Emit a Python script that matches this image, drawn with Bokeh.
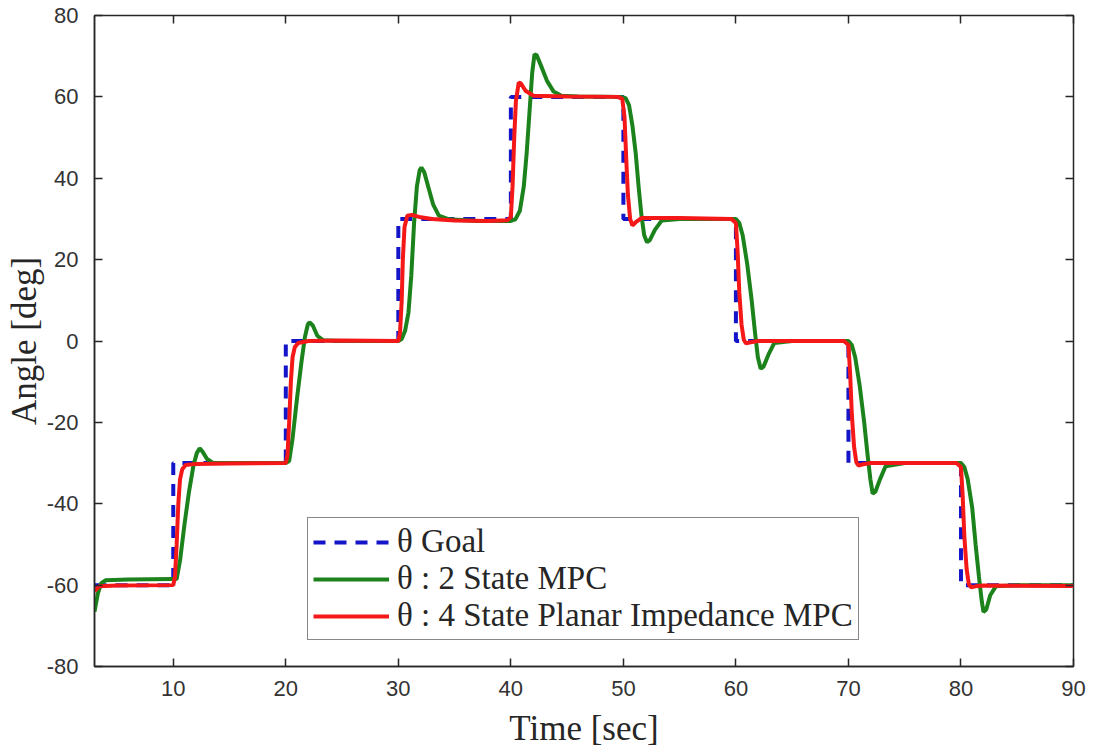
from bokeh.plotting import figure
from bokeh.models import Range1d, LinearAxis, FixedTicker, CustomJSTickFormatter
from bokeh.embed import file_html
from bokeh.resources import INLINE

# ---- data ----
goal_x = [3, 10, 10, 20, 20, 30, 30, 40, 40, 50, 50, 60, 60, 70, 70, 80, 80, 90]
goal_y = [-60, -60, -30, -30, 0, 0, 30, 30, 60, 60, 30, 30, 0, 0, -30, -30, -60, -60]

mpc2_x = [3.0, 3.3, 3.6, 4, 6, 10, 10.3, 10.6, 11.0, 11.4, 11.8, 12.1, 12.35, 12.6, 13, 13.5, 15,
          20, 20.3, 20.6, 21.0, 21.4, 21.7, 21.95, 22.1, 22.4, 22.8, 23.3, 25,
          30, 30.3, 30.6, 30.9, 31.15, 31.4, 31.65, 31.9, 32.05, 32.3, 32.7, 33.1, 33.6, 34.5, 37,
          40, 40.4, 40.8, 41.15, 41.4, 41.65, 41.9, 42.1, 42.3, 42.7, 43.2, 43.8, 44.5, 46,
          49.8, 50.2, 50.5, 50.8, 51.1, 51.35, 51.6, 51.85, 52.1, 52.35, 52.8, 53.4, 55,
          60, 60.3, 60.6, 61.0, 61.4, 61.7, 61.95, 62.2, 62.45, 62.9, 63.4, 65,
          70, 70.3, 70.6, 71.0, 71.4, 71.7, 71.95, 72.15, 72.4, 72.8, 73.3, 75,
          80, 80.3, 80.6, 81.0, 81.3, 81.6, 81.85, 82.0, 82.25, 82.6, 83.1, 85, 90]
mpc2_y = [-66.5, -62, -59.5, -58.8, -58.6, -58.5, -58.5, -54, -45, -37, -30.5, -27.5, -26.4, -27.2, -29, -29.9, -30,
          -30, -29.5, -24, -14, -5, 1, 4, 4.6, 3.8, 1.3, 0.2, 0,
          0, 0.5, 2.5, 7, 16, 29, 38, 42, 42.6, 41.5, 37.5, 33.5, 30.8, 29.9, 29.5,
          29.5, 29.9, 32, 38, 46, 56, 66, 70.5, 70.2, 67.5, 64, 61.3, 60.3, 60.1,
          60, 59.7, 58, 53, 46, 38, 31, 26, 24.3, 24.8, 27.3, 29.6, 30,
          30, 29, 26, 19, 10, 2, -4, -6.8, -6.3, -3.3, -0.5, 0,
          0, -1, -4, -11, -20, -28, -34, -37.5, -37, -34, -30.8, -30,
          -30, -31, -34, -41, -50, -58, -64, -66.6, -66, -62.5, -60.3, -60, -60]

mpc4_x = [3.0, 3.4, 5, 10.0, 10.15, 10.3, 10.45, 10.6, 10.8, 11.1, 12, 15,
          20, 20.15, 20.3, 20.45, 20.6, 20.8, 21.1, 22, 25,
          30, 30.15, 30.3, 30.4, 30.55, 30.8, 31.2, 32, 33, 35, 38, 39.7,
          40.0, 40.15, 40.3, 40.45, 40.7, 40.9, 41.3, 42, 45, 49.5,
          49.9, 50.1, 50.25, 50.4, 50.6, 50.8, 51.1, 51.6, 55, 59.6,
          60, 60.15, 60.3, 60.5, 60.7, 60.9, 61.3, 62, 69.6,
          70, 70.15, 70.3, 70.5, 70.7, 70.9, 71.3, 72, 79.6,
          80, 80.15, 80.3, 80.5, 80.7, 80.9, 81.3, 82, 90]
mpc4_y = [-61.5, -60.3, -60.1, -60.0, -58, -50, -40, -34, -31.5, -30.5, -30.2, -30.1,
          -30, -28, -20, -10, -4, -1.5, -0.5, 0, 0.1,
          0, 2, 10, 20, 28, 30.8, 31, 30.4, 30.0, 29.6, 29.5, 29.7,
          30.5, 38, 50, 59, 63.5, 63.3, 61.5, 60.3, 60.1, 60,
          59.5, 55, 45, 36, 30, 28.4, 29.2, 30.2, 30.2, 30,
          29, 22, 12, 4, 0.3, -0.6, -0.3, 0, 0,
          -1, -8, -18, -26, -29.8, -30.6, -30.3, -30, -30,
          -31, -38, -48, -56, -59.8, -60.5, -60.3, -60.1, -60.2]

x_ticks = [10, 20, 30, 40, 50, 60, 70, 80, 90]
y_ticks = [-80, -60, -40, -20, 0, 20, 40, 60, 80]
y_tick_labels = ["-80", "-60", "-40", "-20", "0", "20", "40", "60", "80"]

labels = ["\u03b8 Goal", "\u03b8 : 2 State MPC", "\u03b8 : 4 State Planar Impedance MPC"]

# ---- figure ----
p = figure(width=1094, height=751, output_backend="svg", toolbar_location=None,
           x_range=Range1d(3, 90), y_range=Range1d(-80, 80),
           min_border_left=94, min_border_right=21, min_border_top=15, min_border_bottom=85)
p.background_fill_color = "white"
p.border_fill_color = "white"
p.outline_line_color = "#262626"
p.outline_line_width = 1.5
p.xgrid.visible = False
p.ygrid.visible = False

tick_color = "#262626"
font_sans = "Liberation Sans"
font_serif = "Liberation Serif"

for ax, ticks in ((p.xaxis[0], x_ticks), (p.yaxis[0], y_ticks)):
    ax.ticker = FixedTicker(ticks=ticks)
    ax.major_tick_in = 8
    ax.major_tick_out = 0
    ax.minor_tick_line_color = None
    ax.major_tick_line_color = tick_color
    ax.major_tick_line_width = 1.5
    ax.axis_line_color = tick_color
    ax.axis_line_width = 1.5
    ax.major_label_text_font = font_sans
    ax.major_label_text_font_size = "22px"
    ax.major_label_text_color = "#333333"
    ax.axis_label_text_font = font_serif
    ax.axis_label_text_font_size = "35px"
    ax.axis_label_text_font_style = "normal"
    ax.axis_label_text_color = "#262626"

p.yaxis[0].major_label_overrides = {t: s for t, s in zip(y_ticks, y_tick_labels)}
p.xaxis[0].axis_label = "Time [sec]"
p.yaxis[0].axis_label = "Angle [deg]"
p.xaxis[0].major_label_standoff = 14
p.yaxis[0].major_label_standoff = 16
p.xaxis[0].axis_label_standoff = 10
p.yaxis[0].axis_label_standoff = 0

for loc, ticks in (("above", x_ticks), ("right", y_ticks)):
    ax = LinearAxis(ticker=FixedTicker(ticks=ticks),
                    formatter=CustomJSTickFormatter(code="return ''"))
    ax.major_tick_in = 8
    ax.major_tick_out = 0
    ax.minor_tick_line_color = None
    ax.major_tick_line_color = tick_color
    ax.major_tick_line_width = 1.5
    ax.axis_line_color = None
    ax.major_label_standoff = 0
    p.add_layout(ax, loc)

p.line(goal_x, goal_y, line_color="#1414c8", line_width=4, line_dash="12 9", legend_label=labels[0])
p.line(mpc2_x, mpc2_y, line_color="#1c821c", line_width=4, legend_label=labels[1])
p.line(mpc4_x, mpc4_y, line_color="#f41818", line_width=4, legend_label=labels[2])

lg = p.legend[0]
lg.location = (213, 26)
lg.border_line_color = "#111111"
lg.border_line_width = 1.5
lg.background_fill_color = "white"
lg.background_fill_alpha = 1
lg.label_text_font = font_serif
lg.label_text_font_size = "33px"
lg.label_text_color = "#262626"
lg.glyph_width = 76
lg.glyph_height = 30
lg.label_height = 30
lg.label_standoff = 8
lg.spacing = 0
lg.padding = 5
lg.margin = 0

open("out.html", "w").write(file_html(p, INLINE))
